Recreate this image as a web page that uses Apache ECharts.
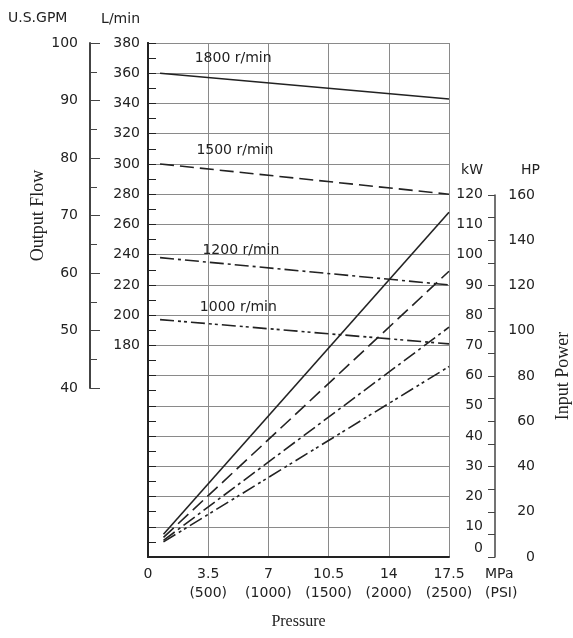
<!DOCTYPE html>
<html>
<head>
<meta charset="utf-8">
<script src="https://cdn.jsdelivr.net/npm/echarts@6/dist/echarts.min.js"></script>
<style>
  html, body { margin: 0; padding: 0; background: #fff; }
  #chart { width: 573px; height: 638px; }
</style>
</head>
<body>
<div id="chart"></div>
<script>
  // pressure ticks, MPa with the PSI value printed under it
  const mpaTicks = [0, 3.5, 7, 10.5, 14, 17.5];
  const psiTicks = ['', '500', '1000', '1500', '2000', '2500'];

  // output flow (L/min) against pressure (MPa)
  const flow1800 = [[0.7, 360], [17.5, 343]];
  const flow1500 = [[0.7, 300], [17.5, 280]];
  const flow1200 = [[0.7, 238], [17.5, 220]];
  const flow1000 = [[0.7, 197], [17.5, 181]];

  // input power (kW) against pressure (MPa)
  const power1800 = [[0.9, 7.5], [17.5, 114]];
  const power1500 = [[0.9, 6.5], [17.5, 94.5]];
  const power1200 = [[0.9, 5.5], [17.5, 76]];
  const power1000 = [[0.9, 5], [17.5, 63]];

  const speedNames = ['1800 r/min', '1500 r/min', '1200 r/min', '1000 r/min'];

  const ink = '#222';
  const gridColor = '#8a8a8a';
  const sans = 'DejaVu Sans';
  const serif = 'Liberation Serif';
  const dashes = ['solid', [14, 6], [14, 4, 3, 4], [14, 4, 3, 3, 3, 4]];

  const chart = echarts.init(document.getElementById('chart'));

  function lineSeries(name, data, yIndex, dash, labelAt) {
    const s = {
      name: name,
      type: 'line',
      xAxisIndex: 0,
      yAxisIndex: yIndex,
      data: data,
      showSymbol: false,
      silent: true,
      lineStyle: {color: ink, width: 1.6, type: dash}
    };
    if (labelAt) {
      s.markPoint = {
        symbolSize: 0,
        silent: true,
        data: [{coord: labelAt, value: name}],
        label: {show: true, position: 'inside', formatter: name, color: ink, fontFamily: sans, fontSize: 14}
      };
    }
    return s;
  }

  chart.setOption({
    animation: false,
    backgroundColor: '#fff',
    grid: [
      {left: 148, right: 124, top: 43, bottom: 81},
      {left: 90, top: 43, width: 10, height: 345},
      {left: 495, top: 195, width: 10, height: 362}
    ],
    xAxis: [
      {
        gridIndex: 0, type: 'value', min: 0, max: 17.5, interval: 3.5,
        axisLine: {lineStyle: {color: ink, width: 2}},
        axisTick: {show: false},
        splitLine: {show: true, lineStyle: {color: gridColor, width: 1}},
        axisLabel: {
          margin: 8, color: ink, fontFamily: sans, fontSize: 14, lineHeight: 19,
          formatter: function (v) {
            const i = Math.round(v / 3.5);
            return psiTicks[i] ? mpaTicks[i] + '\n(' + psiTicks[i] + ')' : String(mpaTicks[i]);
          }
        },
        name: 'MPa\n(PSI)', nameLocation: 'end', nameGap: 36,
        nameTextStyle: {color: ink, fontFamily: sans, fontSize: 14, lineHeight: 19,
          align: 'left', verticalAlign: 'top', padding: [8, 0, 0, 0]}
      },
      {
        gridIndex: 0, type: 'value', min: 0, max: 17.5, position: 'bottom',
        axisLine: {show: false}, axisTick: {show: false}, axisLabel: {show: false}, splitLine: {show: false},
        name: 'Pressure', nameLocation: 'middle', nameGap: 57,
        nameTextStyle: {color: ink, fontFamily: serif, fontSize: 16}
      },
      {gridIndex: 1, type: 'value', show: false},
      {gridIndex: 2, type: 'value', show: false}
    ],
    yAxis: [
      {
        gridIndex: 0, type: 'value', position: 'left', min: 40, max: 380, interval: 20,
        axisLine: {show: true, lineStyle: {color: ink, width: 2}},
        axisTick: {show: true, inside: true, length: 8, lineStyle: {color: ink}},
        minorTick: {show: true, splitNumber: 2, length: 8, lineStyle: {color: ink}},
        splitLine: {show: true, lineStyle: {color: gridColor, width: 1}},
        axisLabel: {margin: 8, color: ink, fontFamily: sans, fontSize: 14,
          formatter: function (v) { return v >= 180 ? String(v) : ''; }},
        name: 'L/min', nameLocation: 'end', nameGap: 17,
        nameTextStyle: {color: ink, fontFamily: sans, fontSize: 14, align: 'right', padding: [0, 8, 0, 0]}
      },
      {
        gridIndex: 0, type: 'value', position: 'right', min: 0, max: 170, interval: 10,
        axisLine: {show: true, lineStyle: {color: ink, width: 2}},
        axisTick: {show: false},
        splitLine: {show: false},
        axisLabel: {margin: 34, align: 'right', color: ink, fontFamily: sans, fontSize: 14,
          formatter: function (v) {
            if (v > 120) return '';
            return v === 0 ? '{z|0}' : String(v);
          },
          rich: {z: {color: ink, fontFamily: sans, fontSize: 14, padding: [0, 0, 18, 0]}}
        }
      },
      {
        gridIndex: 1, type: 'value', position: 'left', min: 40, max: 100, interval: 10,
        axisLine: {show: true, lineStyle: {color: '#444', width: 2}},
        axisTick: {show: true, inside: true, length: 10, lineStyle: {color: '#444'}},
        minorTick: {show: true, splitNumber: 2, length: 7, lineStyle: {color: '#444'}},
        splitLine: {show: false},
        axisLabel: {margin: 12, color: ink, fontFamily: sans, fontSize: 14},
        name: 'Output Flow', nameLocation: 'middle', nameRotate: 90, nameGap: 40,
        nameTextStyle: {color: ink, fontFamily: serif, fontSize: 18}
      },
      {
        gridIndex: 2, type: 'value', position: 'right', min: 0, max: 160, interval: 20,
        axisLine: {show: true, lineStyle: {color: '#444', width: 1.5}},
        axisTick: {show: true, inside: true, length: 7, lineStyle: {color: '#444'}},
        minorTick: {show: true, splitNumber: 2, length: 7, lineStyle: {color: '#444'}},
        splitLine: {show: false},
        axisLabel: {margin: 35, align: 'right', color: ink, fontFamily: sans, fontSize: 14},
        name: 'Input Power', nameLocation: 'middle', nameRotate: 90, nameGap: 54,
        nameTextStyle: {color: ink, fontFamily: serif, fontSize: 18}
      }
    ],
    graphic: [
      {type: 'text', x: 8, y: 18, style: {text: 'U.S.GPM', fill: ink, font: '14px "DejaVu Sans"', verticalAlign: 'middle'}},
      {type: 'text', x: 483, y: 170, style: {text: 'kW', fill: ink, font: '14px "DejaVu Sans"', align: 'right', verticalAlign: 'middle'}},
      {type: 'text', x: 540, y: 170, style: {text: 'HP', fill: ink, font: '14px "DejaVu Sans"', align: 'right', verticalAlign: 'middle'}}
    ],
    series: [
      lineSeries(speedNames[0], flow1800, 0, dashes[0], [4.95, 370]),
      lineSeries(speedNames[1], flow1500, 0, dashes[1], [5.05, 309]),
      lineSeries(speedNames[2], flow1200, 0, dashes[2], [5.4, 243]),
      lineSeries(speedNames[3], flow1000, 0, dashes[3], [5.25, 205]),
      lineSeries(speedNames[0] + ' kW', power1800, 1, dashes[0]),
      lineSeries(speedNames[1] + ' kW', power1500, 1, dashes[1]),
      lineSeries(speedNames[2] + ' kW', power1200, 1, dashes[2]),
      lineSeries(speedNames[3] + ' kW', power1000, 1, dashes[3])
    ]
  });
</script>
</body>
</html>
